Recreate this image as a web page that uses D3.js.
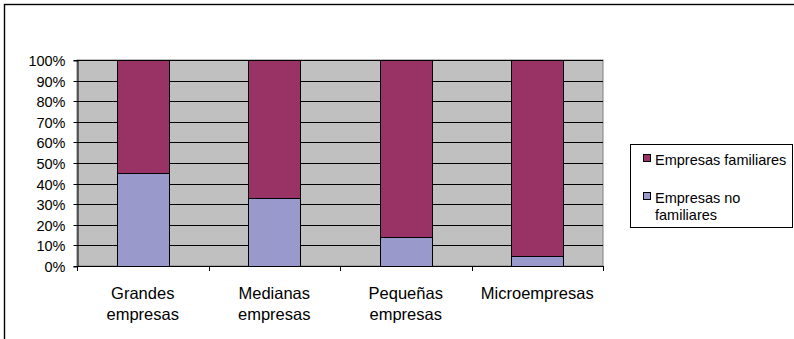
<!DOCTYPE html>
<html>
<head>
<meta charset="utf-8">
<script src="https://cdn.jsdelivr.net/npm/d3@7"></script>
<style>
  html, body { margin: 0; padding: 0; background: #fff; }
  svg { display: block; font-family: "Liberation Sans", Arial, sans-serif; }
</style>
</head>
<body>
<svg id="chart" width="794" height="339"></svg>
<script>
// Company size categories (each label may wrap onto two lines)
const categories = ["Grandes empresas", "Medianas empresas", "Pequeñas empresas", "Microempresas"];
const categoryLines = [["Grandes", "empresas"], ["Medianas", "empresas"], ["Pequeñas", "empresas"], ["Microempresas"]];
// Share of non-family firms (%) per category; family firms make up the rest
const noFamiliares = [45, 33, 14, 5];
const familiares = [55, 67, 86, 95];
const seriesNames = ["Empresas familiares", "Empresas no familiares"];
const yTicks = [0, 10, 20, 30, 40, 50, 60, 70, 80, 90, 100];

const svg = d3.select("#chart");

// outer frame
svg.append("rect")
  .attr("x", 4.5).attr("y", 4.5).attr("width", 800).attr("height", 400)
  .attr("fill", "#fff").attr("stroke", "#000").attr("stroke-width", 1.4);

const plot = { left: 77, top: 60, right: 603, bottom: 266 };

const x = d3.scaleBand().domain(categories).range([plot.left, plot.right]).paddingInner(0.605).paddingOuter(0.3025);
const xBounds = d3.scaleLinear().domain([0, categories.length]).range([plot.left, plot.right]);
const y = d3.scaleLinear().domain([0, 100]).range([plot.bottom, plot.top]);

// plot background
svg.append("rect")
  .attr("x", plot.left).attr("y", plot.top)
  .attr("width", plot.right - plot.left).attr("height", plot.bottom - plot.top)
  .attr("fill", "#C0C0C0").attr("stroke", "#808080").attr("stroke-width", 1);

// horizontal gridlines
svg.append("g").selectAll("line").data(yTicks.filter(d => d > 0)).join("line")
  .attr("x1", plot.left).attr("x2", plot.right)
  .attr("y1", d => Math.round(y(d)) + 0.5).attr("y2", d => Math.round(y(d)) + 0.5)
  .attr("stroke", "#000").attr("stroke-width", 1);

// stacked bars
const stackData = categories.map((c, i) => ({ cat: c, nf: noFamiliares[i], f: familiares[i] }));
const stack = d3.stack().keys(["nf", "f"])(stackData);
const colors = { nf: "#9999CC", f: "#993366" };

svg.append("g").selectAll("g").data(stack).join("g")
  .attr("fill", d => colors[d.key])
  .selectAll("rect").data(d => d).join("rect")
  .attr("x", d => Math.round(x(d.data.cat)) + 0.5)
  .attr("width", Math.round(x.bandwidth()))
  .attr("y", d => Math.round(y(d[1])) + 0.5)
  .attr("height", d => Math.round(y(d[0])) - Math.round(y(d[1])))
  .attr("stroke", "#000").attr("stroke-width", 1);

// y axis
const yAxis = d3.axisLeft(y).tickValues(yTicks).tickFormat(d => d + "%").tickSize(4).tickPadding(8);
const gy = svg.append("g").attr("transform", `translate(${plot.left + 0.5},0.5)`).call(yAxis);
gy.select(".domain").attr("stroke", "#000");
gy.selectAll(".tick line").attr("stroke", "#000");
gy.selectAll(".tick text").attr("font-size", "14.5px").attr("fill", "#000").attr("dy", "0.35em");
gy.selectAll(".tick").attr("transform", d => `translate(0,${Math.round(y(d))})`);

// x axis: baseline with ticks at category boundaries
svg.append("line")
  .attr("x1", plot.left).attr("x2", plot.right + 0.5)
  .attr("y1", plot.bottom + 0.5).attr("y2", plot.bottom + 0.5)
  .attr("stroke", "#000");
svg.append("g").selectAll("line").data(d3.range(0, categories.length + 1)).join("line")
  .attr("x1", d => Math.round(xBounds(d)) + 0.5).attr("x2", d => Math.round(xBounds(d)) + 0.5)
  .attr("y1", plot.bottom).attr("y2", plot.bottom + 5)
  .attr("stroke", "#000");

// category labels
const xl = svg.append("g").selectAll("text").data(categories).join("text")
  .attr("x", d => x(d) + x.bandwidth() / 2)
  .attr("y", 299)
  .attr("text-anchor", "middle")
  .attr("font-size", "16.5px").attr("fill", "#000");
xl.each(function (d, i) {
  d3.select(this).selectAll("tspan").data(categoryLines[i]).join("tspan")
    .attr("x", x(d) + x.bandwidth() / 2)
    .attr("dy", (t, j) => j === 0 ? 0 : 21)
    .text(t => t);
});

// legend
const lg = svg.append("g");
lg.append("rect")
  .attr("x", 630.5).attr("y", 144.5).attr("width", 162).attr("height", 83)
  .attr("fill", "#fff").attr("stroke", "#000");
const legendItems = [
  { key: "f", lines: ["Empresas familiares"], y: 160 },
  { key: "nf", lines: ["Empresas no", "familiares"], y: 198 }
];
legendItems.forEach(it => {
  lg.append("rect")
    .attr("x", 643.5).attr("y", it.y - 5.5).attr("width", 7).attr("height", 7)
    .attr("fill", colors[it.key]).attr("stroke", "#000");
  const t = lg.append("text").attr("x", 655).attr("y", it.y)
    .attr("font-size", "14.5px").attr("fill", "#000").attr("dy", "0.35em");
  t.selectAll("tspan").data(it.lines).join("tspan")
    .attr("x", 655).attr("dy", (s, j) => j === 0 ? "0.35em" : 17)
    .text(s => s);
});
</script>
</body>
</html>
